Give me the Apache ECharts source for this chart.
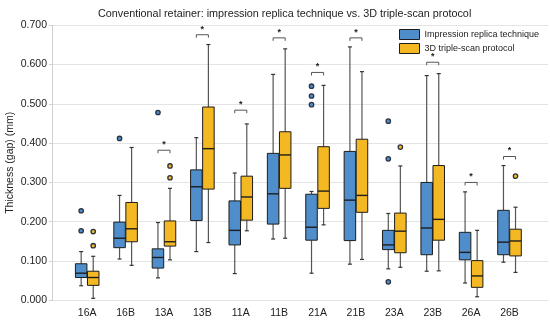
<!DOCTYPE html>
<html><head><meta charset="utf-8">
<script src="https://cdn.jsdelivr.net/npm/echarts@6/dist/echarts.min.js"></script>
<style>html,body{margin:0;padding:0;background:#fff}#c{width:550px;height:325px}</style>
</head><body><div id="c"></div>
<script>
const categories = ['16A','16B','13A','13B','11A','11B','21A','21B','23A','23B','26A','26B'];
const yTicks = [0,0.1,0.2,0.3,0.4,0.5,0.6,0.7];
// [lower whisker, Q1, median, Q3, upper whisker]
const impression = [
  [0.037,0.058,0.069,0.093,0.124],
  [0.105,0.134,0.158,0.199,0.267],
  [0.057,0.082,0.109,0.131,0.198],
  [0.124,0.203,0.289,0.332,0.414],
  [0.068,0.141,0.178,0.253,0.324],
  [0.156,0.194,0.271,0.374,0.575],
  [0.069,0.153,0.186,0.270,0.277],
  [0.092,0.152,0.255,0.379,0.645],
  [0.080,0.129,0.141,0.178,0.221],
  [0.074,0.116,0.184,0.300,0.572],
  [0.044,0.103,0.122,0.173,0.276],
  [0.097,0.116,0.148,0.229,0.343]
];
const tripleScan = [
  [0.005,0.038,0.058,0.074,0.112],
  [0.089,0.149,0.182,0.249,0.389],
  [0.103,0.138,0.149,0.202,0.285],
  [0.147,0.283,0.386,0.492,0.651],
  [0.177,0.204,0.263,0.316,0.449],
  [0.158,0.285,0.370,0.429,0.640],
  [0.192,0.234,0.278,0.391,0.547],
  [0.104,0.224,0.267,0.410,0.582],
  [0.084,0.121,0.176,0.222,0.342],
  [0.075,0.153,0.206,0.343,0.577],
  [0.009,0.033,0.062,0.101,0.178],
  [0.071,0.113,0.151,0.181,0.237]
];
// outliers: [category, value]
const impressionOutliers = [['16A',0.228],['16A',0.177],['16B',0.412],['13A',0.478],['21A',0.545],['21A',0.520],['21A',0.498],['23A',0.456],['23A',0.360],['23A',0.047]];
const tripleOutliers = [['16A',0.175],['16A',0.139],['13A',0.342],['13A',0.312],['23A',0.390],['26B',0.316]];
// significance brackets: [category, height]
const significance = [['13A',0.382],['13B',0.676],['11A',0.484],['11B',0.668],['21A',0.580],['21B',0.668],['23B',0.606],['26A',0.300],['26B',0.366]];

const BLUE = '#4f8dcb', YELLOW = '#f4b822', EDGE = '#1d1d1d', WHISK = '#555';
const FONT = 'Liberation Sans, Arial, sans-serif';
const OFF = 0.157, BW = 0.3;

function boxRender(offset, color){
  return function(params, api){
    const i = api.value(0);
    const lo = api.coord([i, api.value(1)]), q1 = api.coord([i, api.value(2)]),
          md = api.coord([i, api.value(3)]), q3 = api.coord([i, api.value(4)]),
          hi = api.coord([i, api.value(5)]);
    const band = api.size([1,0])[0];
    const cx = lo[0] + offset*band, w = band*BW, cap = 2;
    return {type:'group', children:[
      {type:'line', shape:{x1:cx,y1:hi[1],x2:cx,y2:q3[1]}, style:{stroke:WHISK,lineWidth:1.2}},
      {type:'line', shape:{x1:cx,y1:q1[1],x2:cx,y2:lo[1]}, style:{stroke:WHISK,lineWidth:1.2}},
      {type:'line', shape:{x1:cx-cap,y1:hi[1],x2:cx+cap,y2:hi[1]}, style:{stroke:'#333',lineWidth:1.2}},
      {type:'line', shape:{x1:cx-cap,y1:lo[1],x2:cx+cap,y2:lo[1]}, style:{stroke:'#333',lineWidth:1.2}},
      {type:'rect', shape:{x:cx-w/2,y:q3[1],width:w,height:q1[1]-q3[1]}, style:{fill:color,stroke:EDGE,lineWidth:1}},
      {type:'line', shape:{x1:cx-w/2,y1:md[1],x2:cx+w/2,y2:md[1]}, style:{stroke:EDGE,lineWidth:1.4}}
    ]};
  };
}
function outlierRender(offset, color){
  return function(params, api){
    const p = api.coord([api.value(0), api.value(1)]);
    const band = api.size([1,0])[0];
    return {type:'circle', shape:{cx:p[0]+offset*band, cy:p[1], r:2.2}, style:{fill:color, stroke:'#2a3440', lineWidth:1.3}};
  };
}
function bracketRender(params, api){
  const p = api.coord([api.value(0), api.value(1)]);
  const band = api.size([1,0])[0];
  const x1 = p[0]-OFF*band, x2 = p[0]+OFF*band, y = p[1];
  return {type:'group', children:[
    {type:'polyline', shape:{points:[[x1,y+3],[x1,y],[x2,y],[x2,y+3]]}, style:{stroke:'#555',lineWidth:1,fill:null}},
    {type:'text', style:{x:p[0], y:y-1, text:'*', fill:'#222', font:'bold 9px '+FONT, align:'center', verticalAlign:'bottom'}}
  ]};
}

const chart = echarts.init(document.getElementById('c'));
chart.setOption({
  animation:false,
  title:{text:'Conventional retainer: impression replica technique vs. 3D triple-scan protocol',
    left:93, top:4, textStyle:{fontFamily:FONT, fontSize:10.8, fontWeight:'normal', color:'#222'}},
  legend:{orient:'vertical', left:399, top:29, itemWidth:20, itemHeight:10, itemGap:3, padding:0,
    textStyle:{fontFamily:FONT, fontSize:9, color:'#222'},
    data:[{name:'Impression replica technique', icon:'rect', itemStyle:{color:BLUE,borderColor:EDGE,borderWidth:1}},
          {name:'3D triple-scan protocol', icon:'rect', itemStyle:{color:YELLOW,borderColor:EDGE,borderWidth:1}}]},
  grid:[{left:52, right:2, top:25.3, bottom:24.7, containLabel:false, outerBoundsMode:'none'},
        {left:68, right:21.3, top:25.3, bottom:24.7, containLabel:false, outerBoundsMode:'none'}],
  xAxis:[{type:'value', gridIndex:0, show:false, min:0, max:1},
         {type:'category', gridIndex:1, data:categories, axisLine:{show:false}, axisTick:{show:false},
          axisLabel:{fontFamily:FONT, fontSize:10.5, color:'#222', margin:7}}],
  yAxis:[{type:'value', gridIndex:0, min:0, max:0.7, interval:0.1,
          name:'Thickness (gap) (mm)', nameLocation:'middle', nameGap:36, nameMoveOverlap:false,
          nameTextStyle:{fontFamily:FONT, fontSize:10.5, color:'#222'},
          axisLine:{show:true, lineStyle:{color:'#d0d0d0'}}, axisTick:{show:true, length:3, lineStyle:{color:'#d0d0d0'}},
          axisLabel:{fontFamily:FONT, fontSize:10.5, color:'#222', margin:5, formatter:v=>v.toFixed(3)},
          splitLine:{lineStyle:{color:'#e4e4e4'}}},
         {type:'value', gridIndex:1, min:0, max:0.7, show:false, splitLine:{show:false}}],
  series:[
    {name:'Impression replica technique', type:'custom', xAxisIndex:1, yAxisIndex:1,
     itemStyle:{color:BLUE}, renderItem:boxRender(-OFF, BLUE), encode:{x:0, y:[1,2,3,4,5]},
     data:impression.map((d,i)=>[i].concat(d))},
    {name:'3D triple-scan protocol', type:'custom', xAxisIndex:1, yAxisIndex:1,
     itemStyle:{color:YELLOW}, renderItem:boxRender(OFF, YELLOW), encode:{x:0, y:[1,2,3,4,5]},
     data:tripleScan.map((d,i)=>[i].concat(d))},
    {name:'outA', type:'custom', xAxisIndex:1, yAxisIndex:1, renderItem:outlierRender(-OFF, BLUE), encode:{x:0,y:1},
     data:impressionOutliers.map(d=>[categories.indexOf(d[0]), d[1]])},
    {name:'outB', type:'custom', xAxisIndex:1, yAxisIndex:1, renderItem:outlierRender(OFF, YELLOW), encode:{x:0,y:1},
     data:tripleOutliers.map(d=>[categories.indexOf(d[0]), d[1]])},
    {name:'sig', type:'custom', xAxisIndex:1, yAxisIndex:1, renderItem:bracketRender, encode:{x:0,y:1},
     data:significance.map(d=>[categories.indexOf(d[0]), d[1]])}
  ]
});
</script></body></html>
